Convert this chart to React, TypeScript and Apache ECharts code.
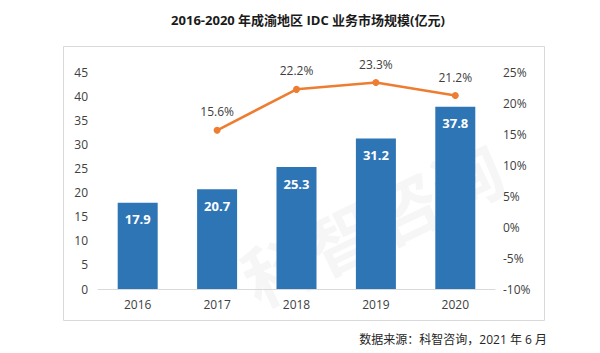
import React, { useEffect, useRef } from "react";
import * as echarts from "echarts";

const years = ["2016", "2017", "2018", "2019", "2020"];
const marketSize = [17.9, 20.7, 25.3, 31.2, 37.8];
const growth: (number | null)[] = [null, 15.6, 22.2, 23.3, 21.2];
const titleText = "2016-2020 年成渝地区 IDC 业务市场规模(亿元)";
const sourceText = "数据来源：科智咨询，2021 年 6 月";
const FONT = "'Open Sans', 'Noto Sans CJK SC', sans-serif";

export default function App() {
  const ref = useRef<HTMLDivElement>(null);
  useEffect(() => {
    document.body.style.margin = "0";
    const chart = echarts.init(ref.current!, null, { renderer: "svg" });
    chart.setOption({
      animation: false,
      backgroundColor: "#ffffff",
      textStyle: { fontFamily: FONT },
      title: {
        text: titleText,
        left: 303,
        top: 8,
        textAlign: "center",
        textStyle: { fontSize: 13, fontWeight: "bold", color: "#1a1a1a", fontFamily: FONT },
      },
      graphic: [
        {
          type: "rect",
          shape: { x: 63.5, y: 46.5, width: 481, height: 274 },
          style: { fill: "none", stroke: "#d9d9d9", lineWidth: 1 },
          z: 0,
        },
        {
          type: "text",
          x: 230,
          y: 250,
          rotation: Math.PI / 7,
          style: {
            text: "科智咨询",
            fontSize: 70,
            fontWeight: "bold",
            fill: "rgba(0,0,0,0.035)",
            fontFamily: "'Noto Sans CJK SC', sans-serif",
          },
          z: 0,
          silent: true,
        },
        {
          type: "text",
          right: 53,
          top: 333,
          style: {
            text: sourceText,
            fontSize: 12,
            fill: "#262626",
            fontFamily: FONT,
          },
        },
      ],
      grid: { left: 98, right: 105, top: 72, bottom: 64 },
      xAxis: {
        type: "category",
        data: years,
        axisLine: { lineStyle: { color: "#d9d9d9" } },
        axisTick: { show: false },
        axisLabel: { color: "#404040", fontSize: 12, margin: 9 },
      },
      yAxis: [
        {
          type: "value",
          min: 0,
          max: 45,
          interval: 5,
          splitLine: { show: false },
          axisLine: { show: false },
          axisTick: { show: false },
          axisLabel: { color: "#404040", fontSize: 12, margin: 10 },
        },
        {
          type: "value",
          min: -10,
          max: 25,
          interval: 5,
          splitLine: { show: false },
          axisLine: { show: false },
          axisTick: { show: false },
          axisLabel: { color: "#404040", fontSize: 12, margin: 8, formatter: "{value}%" },
        },
      ],
      series: [
        {
          type: "bar",
          data: marketSize,
          barWidth: 40,
          itemStyle: { color: "#2e75b6" },
          label: {
            show: true,
            position: "insideTop",
            distance: 10,
            color: "#ffffff",
            fontWeight: "bold",
            fontSize: 13,
            formatter: (p: any) => p.value.toFixed(1),
          },
          z: 2,
        },
        {
          type: "line",
          yAxisIndex: 1,
          data: growth,
          symbol: "circle",
          symbolSize: 7,
          lineStyle: { color: "#ed7d31", width: 2.5 },
          itemStyle: { color: "#ed7d31" },
          label: {
            show: true,
            position: "top",
            distance: 9,
            color: "#404040",
            fontSize: 12,
            formatter: (p: any) => p.value.toFixed(1) + "%",
          },
          z: 3,
        },
      ],
    });
    return () => chart.dispose();
  }, []);
  return <div ref={ref} style={{ width: 600, height: 353 }} />;
}
